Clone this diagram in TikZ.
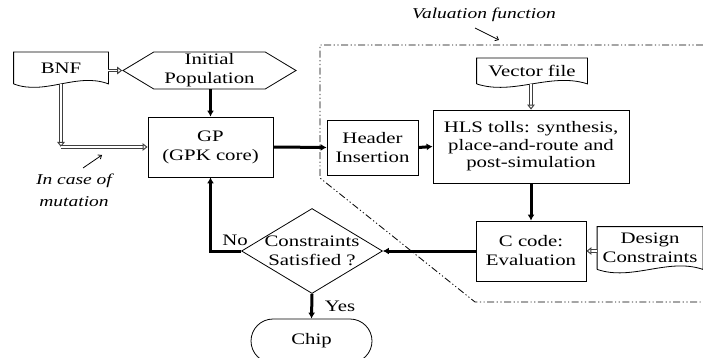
\documentclass[tikz,border=0pt]{standalone}
\usepackage{fontspec}
\setmainfont{Liberation Serif}
\newfontfamily\diafont{Liberation Serif}[FakeStretch=1.3]
\usetikzlibrary{calc,arrows.meta,shapes.geometric,shapes.misc,shapes.symbols}

\tikzset{
  block/.style={draw, line width=0.8pt, align=center, inner sep=1pt, font=\diafont\fontsize{16}{19}\selectfont},
  docnode/.style={block, draw=none},
  thickarrow/.style={line width=3pt, -{Latex[length=6pt,width=7pt]}},
  hollowarrow/.style={draw=gray!50!black, double=white, double distance=1.8pt, line width=1pt, -{Triangle[open,length=5pt,width=7.5pt]}},
  note/.style={font=\diafont\fontsize{15}{22}\selectfont\itshape, align=center},
  pointer/.style={line width=0.8pt, -{Straight Barb[length=3pt,width=5pt]}},
}
\newcommand{\wavydoc}[1]{% outline of a document node
  \draw[line width=0.8pt] (#1.south west) -- (#1.north west) -- (#1.north east) -- (#1.south east)
    .. controls ($(#1.south east)!0.33!(#1.south west)+(0,-12)$) and ($(#1.south east)!0.67!(#1.south west)+(0,12)$) .. (#1.south west);
}

\begin{document}
\begin{tikzpicture}[x=1pt,y=-1pt]
    \path[use as bounding box, clip] (0,0) rectangle (703,358);% Frame of the figure

    % documents
    \node[docnode, minimum width=94, minimum height=31] (bnf) at (61,68) {BNF};
    \node[docnode, minimum width=110, minimum height=25] (vec) at (532,71) {Vector file};
    \node[docnode, minimum width=105, minimum height=42] (dcon) at (650,248) {Design\\Constraints};
    \wavydoc{bnf}
    \wavydoc{vec}
    \wavydoc{dcon}

    % blocks
    \node[block, shape=signal, signal to=west and east, signal pointer angle=62,
          minimum width=173, minimum height=37] (init) at (209.5,70.5) {Initial\\Population};
    \node[block, minimum width=125, minimum height=60] (gp) at (210.5,147) {GP\\(GPK core)};
    \node[block, minimum width=91, minimum height=55] (head) at (372.5,147.5) {Header\\Insertion};
    \node[block, minimum width=196, minimum height=73, font=\diafont\fontsize{16}{17.5}\selectfont] (hls) at (531,146.5)
         {HLS tolls: synthesis,\\place-and-route and\\post-simulation};
    \node[block, minimum width=110, minimum height=60] (ccode) at (531,251) {C code:\\Evaluation};
    \node[block, diamond, inner sep=0pt, minimum width=141, minimum height=85,
          label={[block, draw=none]center:Constraints\\Satisfied ?}] (dia) at (312,251) {};
    \node[block, rounded rectangle, minimum width=123, minimum height=44] (chip) at (311.5,341) {Chip};

    % valuation function frame
    \draw[line width=0.8pt, dash pattern=on 7pt off 2.5pt on 1.2pt off 2.5pt on 1.2pt off 2.5pt]
        (703,45) -- (320,45) -- (320,178) -- (475,302) -- (703,302);

    % connectors
    \coordinate (turn) at (bnf.south |- gp.west);
    \draw[hollowarrow] (bnf.east |- init) -- (init.west);
    \draw[hollowarrow] (bnf.south) -- (turn);
    \draw[hollowarrow] (turn) -- (gp.west);
    \draw[hollowarrow] (vec.south -| hls) -- (hls.north);
    \draw[hollowarrow] (dcon.west |- ccode) -- (ccode.east);

    \draw[thickarrow] (init.south -| gp) -- (gp.north);
    \draw[thickarrow] (gp.east) -- (head.west);
    \draw[thickarrow] (head.east) -- (hls.west);
    \draw[thickarrow] (hls.south) -- (ccode.north);
    \draw[thickarrow] (ccode.west) -- (dia.east);
    \draw[thickarrow] (dia.west) -- (gp.south |- dia.west) -- (gp.south);
    \draw[thickarrow] (dia.south) -- (chip.north);

    % labels
    \node[block, draw=none] (no) at (235,240) {No};
    \node[block, draw=none] (yes) at (340,306) {Yes};
    \node[note] (valf) at (484,15) {Valuation function};
    \node[note] (mut) at (74,190) {In case of\\mutation};
    \coordinate (valfa) at (475,28);
    \coordinate (valfb) at (499,40);
    \coordinate (muta) at (83,168);
    \coordinate (mutb) at (102,155);
    \draw[pointer] (valfa) -- (valfb);
    \draw[pointer] (muta) -- (mutb);
\end{tikzpicture}
\end{document}
